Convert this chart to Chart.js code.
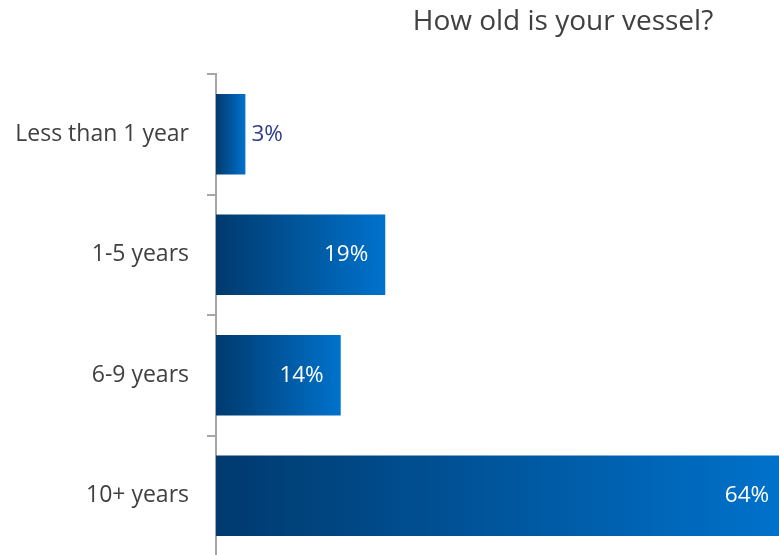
<!DOCTYPE html>
<html>
<head>
<meta charset="utf-8">
<script src="https://cdn.jsdelivr.net/npm/chart.js@4"></script>
<style>
  html, body { margin: 0; padding: 0; background: #fff; overflow: hidden; }
  #wrap { position: relative; width: 795px; height: 560px; }
</style>
</head>
<body>
<div id="wrap"><canvas id="ageChart"></canvas></div>
<script>
const categories = ['Less than 1 year', '1-5 years', '6-9 years', '10+ years'];
const shares = [3.3, 19, 14, 64];
const valueLabels = ['3%', '19%', '14%', '64%'];
const chartTitle = 'How old is your vessel?';

const FONT = '"Open Sans", "Liberation Sans", sans-serif';
const AXIS_GREY = '#a6a6a6';

// left-to-right gradient across each bar
function barGradient(context) {
  const chart = context.chart;
  const { ctx, chartArea, scales } = chart;
  if (!chartArea || !scales.x) return '#0059a8';
  const x0 = scales.x.getPixelForValue(0);
  const x1 = scales.x.getPixelForValue(context.raw);
  const g = ctx.createLinearGradient(x0, 0, x1, 0);
  g.addColorStop(0, '#003a6e');
  g.addColorStop(1, '#0072cc');
  return g;
}

const titlePlugin = {
  id: 'titleText',
  afterDraw(chart) {
    const ctx = chart.ctx;
    ctx.save();
    ctx.font = '28px ' + FONT;
    ctx.fillStyle = '#404040';
    ctx.textAlign = 'center';
    ctx.textBaseline = 'middle';
    ctx.fillText(chartTitle, 563, 22);
    ctx.restore();
  }
};

const valueLabelPlugin = {
  id: 'valueLabels',
  afterDatasetsDraw(chart) {
    const ctx = chart.ctx;
    const meta = chart.getDatasetMeta(0);
    ctx.save();
    ctx.font = '22.5px ' + FONT;
    ctx.textBaseline = 'middle';
    meta.data.forEach((bar, i) => {
      const width = bar.x - bar.base;
      if (width > 60) {
        ctx.fillStyle = '#ffffff';
        ctx.textAlign = 'right';
        ctx.fillText(valueLabels[i], bar.x - 17, bar.y);
      } else {
        ctx.fillStyle = '#2e3a8c';
        ctx.textAlign = 'left';
        ctx.fillText(valueLabels[i], bar.x + 6, bar.y);
      }
    });
    ctx.restore();
  }
};

new Chart(document.getElementById('ageChart'), {
  type: 'bar',
  data: {
    labels: categories,
    datasets: [{
      data: shares,
      backgroundColor: barGradient,
      borderWidth: 0,
      categoryPercentage: 1,
      barPercentage: 0.67,
    }],
  },
  options: {
    indexAxis: 'y',
    responsive: true,
    maintainAspectRatio: false,
    devicePixelRatio: 1,
    animation: false,
    layout: { padding: { top: 74, bottom: 4, left: 0, right: 0 } },
    scales: {
      x: {
        display: false,
        min: 0,
        max: 65,
      },
      y: {
        afterFit(scale) {
          scale.width = 216;
          // labels sit mid-band, so no extra room above/below the axis
          scale.paddingTop = 0;
          scale.paddingBottom = 0;
        },
        border: { display: true, color: AXIS_GREY, width: 2 },
        grid: {
          display: true,
          drawOnChartArea: false,
          offset: true,
          tickLength: 9,
          color: AXIS_GREY,
          lineWidth: 2,
        },
        ticks: {
          color: '#404040',
          padding: 18,
          font: { family: FONT, size: 23 },
        },
      },
    },
    plugins: {
      legend: { display: false },
      tooltip: { enabled: false },
    },
  },
  plugins: [titlePlugin, valueLabelPlugin],
});
</script>
</body>
</html>
